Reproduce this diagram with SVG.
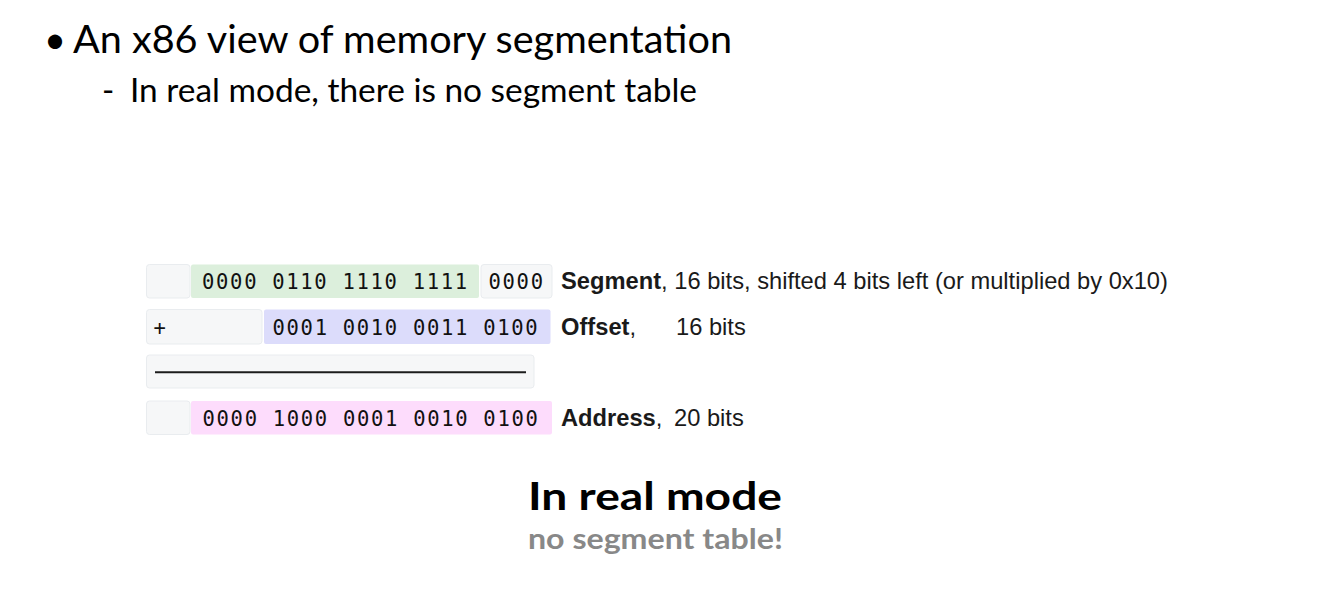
<svg xmlns="http://www.w3.org/2000/svg" width="1324" height="606" viewBox="0 0 1324 606">
  <style>
    .cell { stroke: #e9ecef; stroke-width: 1; }
    .gray { fill: #f6f7f8; }
    .green { fill: #dcefdc; }
    .blue { fill: #dcdcfb; }
    .pink { fill: #fddcfc; }
    .mono { font-family: "DejaVu Sans Mono", "Liberation Mono", monospace; font-size: 20.5px; letter-spacing: 1.7px; fill: #111; }
    .lbl { font-family: "Liberation Sans", Arial, sans-serif; font-size: 23.7px; fill: #1a1a1a; }
    .b { font-weight: bold; }
    .title { font-family: Lato, "Liberation Sans", sans-serif; fill: #000; }
  </style>
  <rect width="1324" height="606" fill="#ffffff"/>

  <g id="heading">
    <text class="title" x="44" y="53" font-size="38">•</text>
    <text class="title" x="73" y="52.5" font-size="38" textLength="659" lengthAdjust="spacingAndGlyphs">An x86 view of memory segmentation</text>
    <text class="title" x="102" y="101.5" font-size="33">-</text>
    <text class="title" x="130" y="101.5" font-size="33" textLength="567" lengthAdjust="spacingAndGlyphs">In real mode, there is no segment table</text>
  </g>

  <g id="row-segment">
    <rect class="cell gray" x="146.5" y="264.5" width="43.5" height="33.5" rx="3"/>
    <rect class="green" x="191" y="264.5" width="288" height="33.5" rx="2"/>
    <rect class="cell gray" x="481" y="264.5" width="71" height="33.5" rx="3"/>
    <text class="mono" x="202" y="289.3">0000 0110 1110 1111</text>
    <text class="mono" x="488.5" y="289.3">0000</text>
    <text class="lbl" x="561" y="289.3"><tspan class="b">Segment</tspan>, 16 bits, shifted 4 bits left (or multiplied by 0x10)</text>
  </g>

  <g id="row-offset">
    <rect class="cell gray" x="146.5" y="309.5" width="115.5" height="34.5" rx="3"/>
    <rect class="blue" x="264" y="309.5" width="286.5" height="34.5" rx="2"/>
    <text class="mono" x="153.5" y="334.8">+</text>
    <text class="mono" x="272.5" y="334.8">0001 0010 0011 0100</text>
    <text class="lbl" x="561" y="334.8"><tspan class="b">Offset</tspan>,</text>
    <text class="lbl" x="676" y="334.8">16 bits</text>
  </g>

  <g id="row-line">
    <rect class="cell gray" x="146.5" y="355" width="387.5" height="33" rx="3"/>
  </g>

  <g id="row-address">
    <rect class="cell gray" x="146.5" y="401" width="43.5" height="33.5" rx="3"/>
    <rect class="pink" x="191" y="401" width="361" height="33.5" rx="2"/>
    <text class="mono" x="202.5" y="425.8">0000 1000 0001 0010 0100</text>
    <text class="lbl" x="561" y="425.8"><tspan class="b">Address</tspan>,</text>
    <text class="lbl" x="674" y="425.8">20 bits</text>
  </g>

  <g id="connectors">
    <line x1="155" y1="372.3" x2="526" y2="372.3" stroke="#1c1c1c" stroke-width="2"/>
  </g>

  <g id="caption">
    <text class="title" x="528" y="510" font-size="39" font-weight="bold" textLength="254" lengthAdjust="spacingAndGlyphs">In real mode</text>
    <text class="title" x="528" y="549" font-size="28.5" font-weight="bold" style="fill:#888888" textLength="255" lengthAdjust="spacingAndGlyphs">no segment table!</text>
  </g>
</svg>
